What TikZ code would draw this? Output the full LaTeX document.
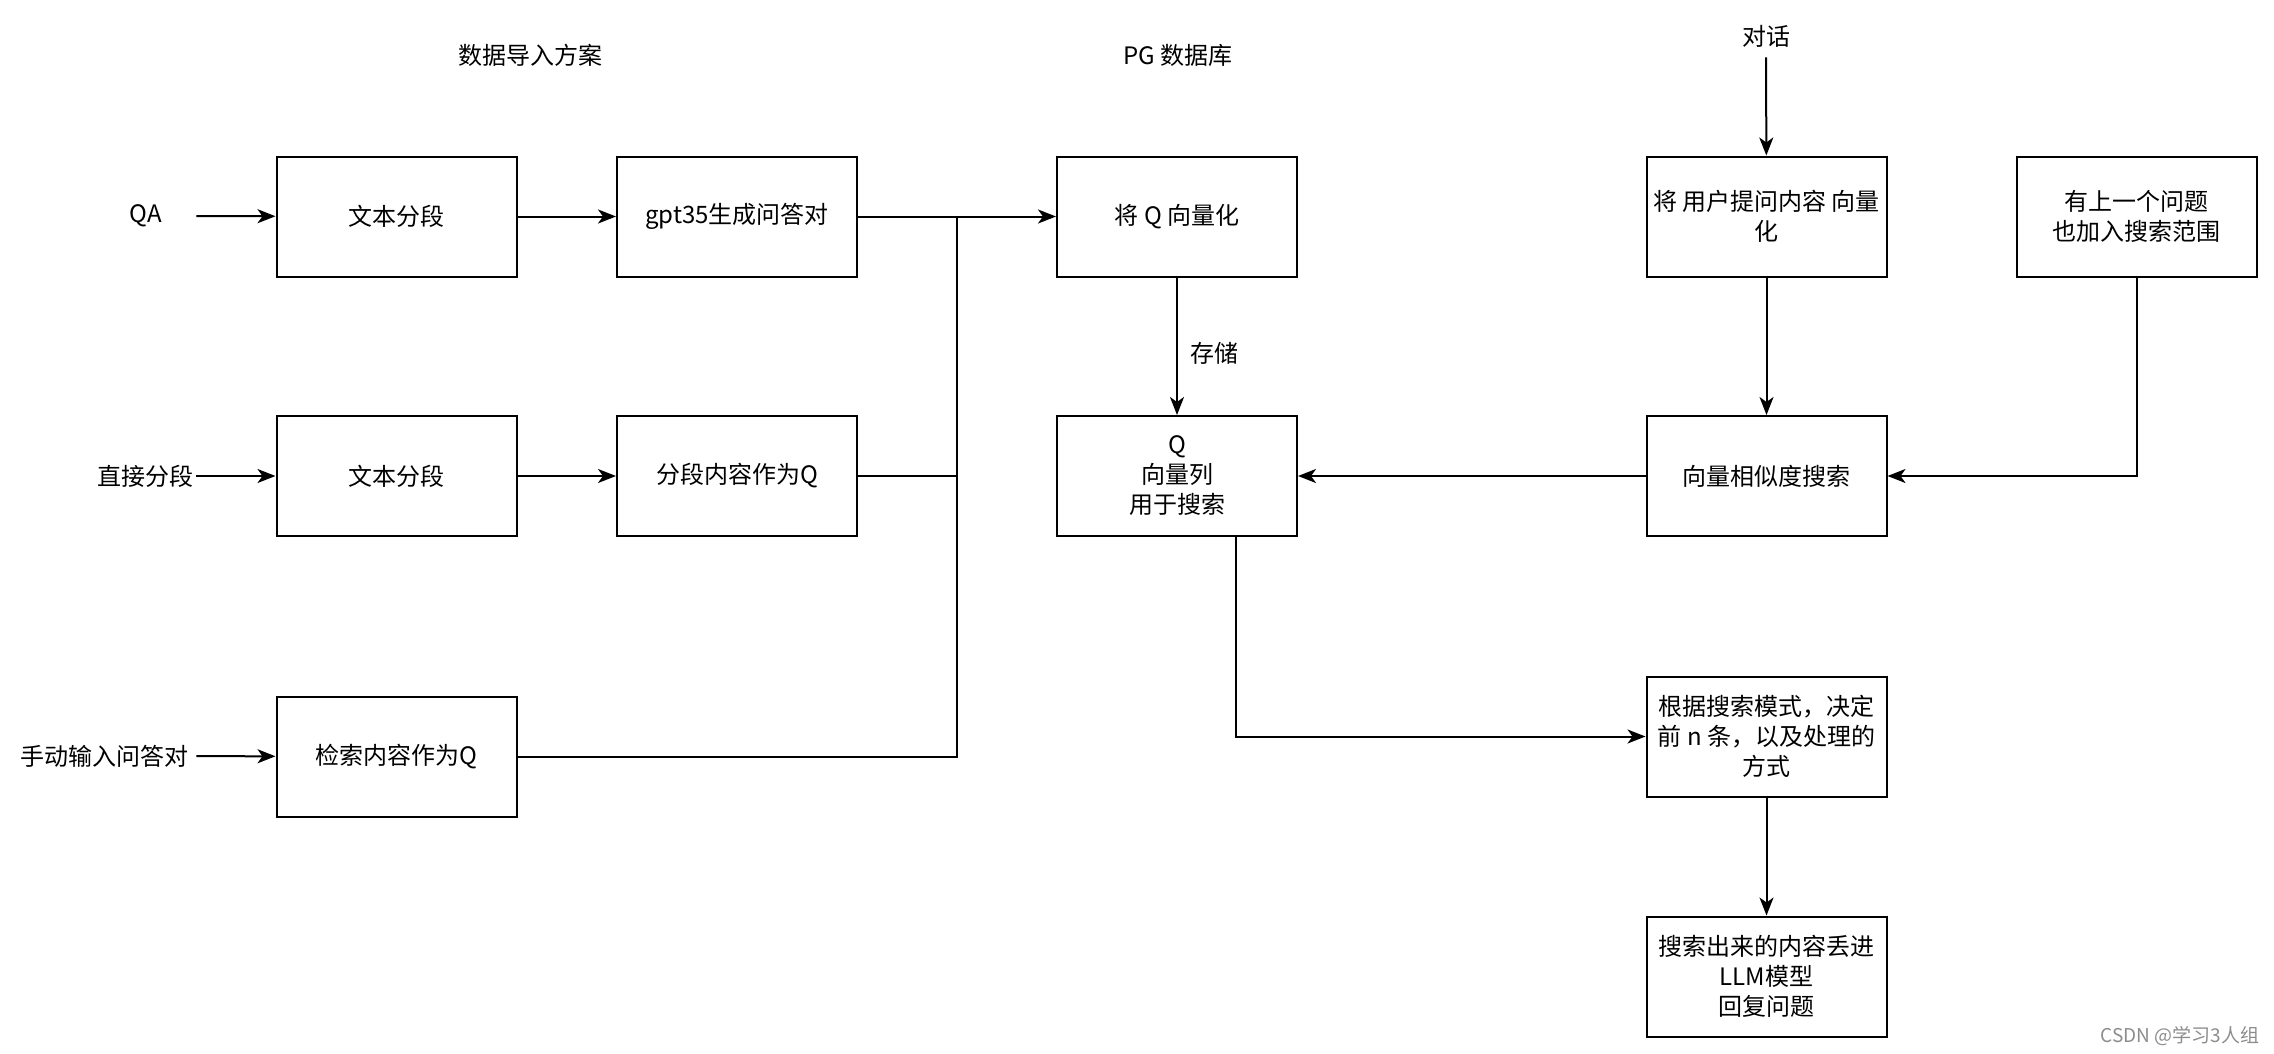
\documentclass[tikz,border=0pt]{standalone}
\usepackage{fontspec}
\setmainfont{Noto Sans CJK SC}
\usetikzlibrary{arrows.meta}

\tikzset{
  boite/.style={draw, line width=1pt, minimum width=120pt, minimum height=60pt,
    align=center, inner sep=2pt},
  src/.style={minimum width=#1, inner sep=0pt},
  fleche/.style={-{Stealth[length=9pt, width=7pt, inset=2.5pt]}, line width=1pt},
  trait/.style={line width=1pt},
}

\begin{document}
\begin{tikzpicture}[x=0.5pt, y=-0.5pt, font=\fontsize{12}{15}\selectfont]
  % Cadre
  \useasboundingbox (0,0) rectangle (2274,1054);

  % Titres
  \node (T1) at (530,55) {数据导入方案};
  \node (T2) at (1178,55) {PG 数据库};
  \node[minimum height=21pt] (T3) at (1766,36) {对话};

  % Sources
  \node[src=50pt] (QA) at (146,216) {QA};
  \node[src=51pt] (S2) at (145,476) {直接分段};
  \node[src=92pt] (S3) at (104,756) {手动输入问答对};

  % Import
  \node[boite] (A1) at (396.5,216.5) {文本分段};
  \node[boite] (A2) at (737,216.5) {gpt35生成问答对};
  \node[boite] (B1) at (396.5,476) {文本分段};
  \node[boite] (B2) at (737,476) {分段内容作为Q};
  \node[boite] (C1) at (396.5,756.5) {检索内容作为Q};

  % Base PG
  \node[boite] (V) at (1177,216.5) {将 Q 向量化};
  \node[boite] (Qc) at (1177,476) {Q\\向量列\\用于搜索};

  % Dialogue
  \node[boite] (U) at (1766.5,216.5) {将 用户提问内容 向量\\化};
  \node[boite] (P) at (2136.5,216.5) {有上一个问题\\也加入搜索范围};
  \node[boite] (R) at (1766.5,476) {向量相似度搜索};
  \node[boite] (D) at (1766.5,736.5) {根据搜索模式，决定\\前 n 条，以及处理的\\方式};
  \node[boite] (F) at (1766.5,976.5) {搜索出来的内容丢进\\LLM模型\\回复问题};

  % Jonction
  \coordinate (J) at (957,216.5);

  % Fleches import
  \draw[fleche] (QA) -- (A1);
  \draw[fleche] (A1) -- (A2);
  \draw[fleche] (S2) -- (B1);
  \draw[fleche] (B1) -- (B2);
  \draw[fleche] (S3) -- (C1);
  \draw[fleche] (A2) -- (V);
  \draw[trait] (B2) -| (J);
  \draw[trait] (C1) -| (J);

  % Stockage
  \draw[fleche] (V) -- node[pos=0.55, right, xshift=3pt] (st) {存储} (Qc);

  % Recherche
  \draw[fleche] (T3) -- (U);
  \draw[fleche] (U) -- (R);
  \draw[fleche] (P) |- (R);
  \draw[fleche] (R) -- (Qc);
  \draw[fleche] ([xshift=29.5pt]Qc.south) |- (D);
  \draw[fleche] (D) -- (F);

  % Filigrane
  \node[text=black!45, font=\fontsize{9.5}{11}\selectfont] (W) at (2180,1036) {CSDN @学习3人组};

\end{tikzpicture}
\end{document}
